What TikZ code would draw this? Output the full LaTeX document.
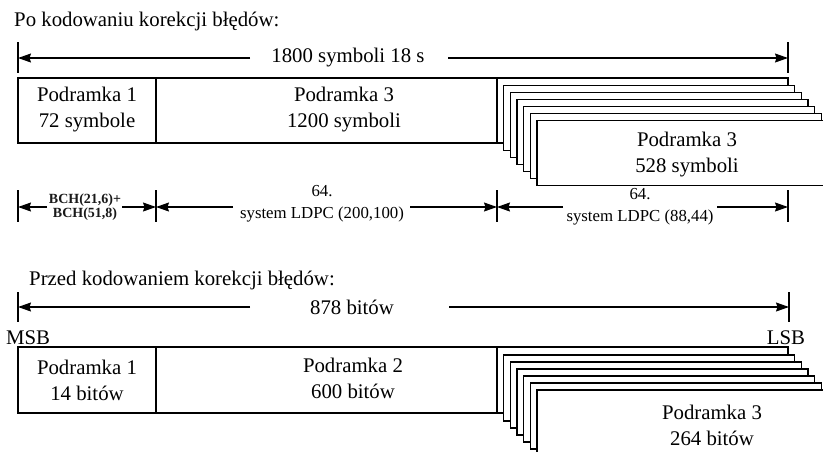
\documentclass[tikz,border=0pt]{standalone}
\usepackage{fontspec}
\setmainfont{Liberation Serif}
\usetikzlibrary{arrows.meta}
\begin{document}
\begin{tikzpicture}[x=1pt,y=-1pt,
  ln/.style={line width=1.2pt,black},
  arr/.style={line width=1.2pt,-{Stealth[length=13pt,width=9pt,inset=1.5pt]}},
  tick/.style={line width=1.2pt},
  card/.style={line width=1.2pt,fill=white,draw=black},
  big/.style={font=\fontsize{20.8}{26}\selectfont,inner sep=0pt,align=center},
  mid/.style={font=\fontsize{16.8}{22}\selectfont,inner sep=0pt,align=center},
  tiny/.style={font=\fontsize{14}{12.5}\selectfont\bfseries,inner sep=0pt,align=center,text=black!90}]
\useasboundingbox (0,0) rectangle (823,451);
\clip (0,0) rectangle (823,451);

% ---------- top section ----------
\node[big,anchor=west] (title1) at (14,21) {Po kodowaniu korekcji błędów:};

\coordinate (tA1) at (18,42); \coordinate (tA2) at (18,73);
\coordinate (tB1) at (788,42); \coordinate (tB2) at (788,73);
\draw[tick] (tA1) -- (tA2);
\draw[tick] (tB1) -- (tB2);
\coordinate (aL) at (18,58); \coordinate (aR) at (788,58);
\coordinate (aLs) at (250,58); \coordinate (aRs) at (448,58);
\node[big] (len1) at (348,58) {1800 symboli 18 s};
\draw[arr] (aLs) -- (aL);
\draw[arr] (aRs) -- (aR);

% main frame
\draw[ln] (18,78) rectangle (788,143);
\draw[ln] (156,78) -- (156,143);
\draw[ln] (497,78) -- (497,143);
% stacked cards
\foreach \i in {1,...,6}{
  \draw[card] ({497+6.67*\i},{78+7.1*\i}) rectangle ++(291,65);
}
\node[big] (p1) at (87,110) {Podramka 1\\72 symbole};
\node[big] (p3a) at (344,110) {Podramka 3\\1200 symboli};
\node[big] (p3b) at (687,155) {Podramka 3\\528 symboli};

% dimension row
\foreach \x/\n in {18/d0,156/d1,497/d2,788/d3}{
  \coordinate (\n t) at (\x,190); \coordinate (\n b) at (\x,222);
  \coordinate (\n) at (\x,207);
  \draw[tick] (\n t) -- (\n b);
}
\node[tiny] (bch) at (85,207) {BCH(21,6)+\\BCH(51,8)};
\coordinate (s1l) at (47,207); \coordinate (s1r) at (122,207);
\draw[arr] (s1l) -- (d0);
\draw[arr] (s1r) -- (d1);
\node[mid] (ldpc1) at (322,204) {64.\\system LDPC (200,100)};
\coordinate (s2l) at (233,207); \coordinate (s2r) at (410,207);
\draw[arr] (s2l) -- (d1);
\draw[arr] (s2r) -- (d2);
\node[mid] (ldpc2) at (640,207) {64.\\system LDPC (88,44)};
\coordinate (s3l) at (563,207); \coordinate (s3r) at (717,207);
\draw[arr] (s3l) -- (d2);
\draw[arr] (s3r) -- (d3);

% ---------- bottom section ----------
\node[big,anchor=west] (title2) at (29,280) {Przed kodowaniem korekcji błędów:};

\coordinate (uA1) at (18,292); \coordinate (uA2) at (18,322);
\coordinate (uB1) at (789,292); \coordinate (uB2) at (789,322);
\draw[tick] (uA1) -- (uA2);
\draw[tick] (uB1) -- (uB2);
\coordinate (bL) at (18,307); \coordinate (bR) at (789,307);
\coordinate (bLs) at (250,307); \coordinate (bRs) at (449,307);
\node[big] (len2) at (352,307) {878 bitów};
\draw[arr] (bLs) -- (bL);
\draw[arr] (bRs) -- (bR);

\node[big] (msb) at (28,338) {MSB};
\node[big] (lsb) at (786,338) {LSB};

\draw[ln] (18,347) rectangle (788,413);
\draw[ln] (156,347) -- (156,413);
\draw[ln] (497,347) -- (497,413);
\foreach \i in {1,...,6}{
  \draw[card] ({497+6.67*\i},{348+7*\i}) rectangle ++(291,66);
}
\node[big] (q1) at (87,380) {Podramka 1\\14 bitów};
\node[big] (q2) at (353,378) {Podramka 2\\600 bitów};
\node[big] (q3) at (712,425) {Podramka 3\\264 bitów};
\end{tikzpicture}
\end{document}
